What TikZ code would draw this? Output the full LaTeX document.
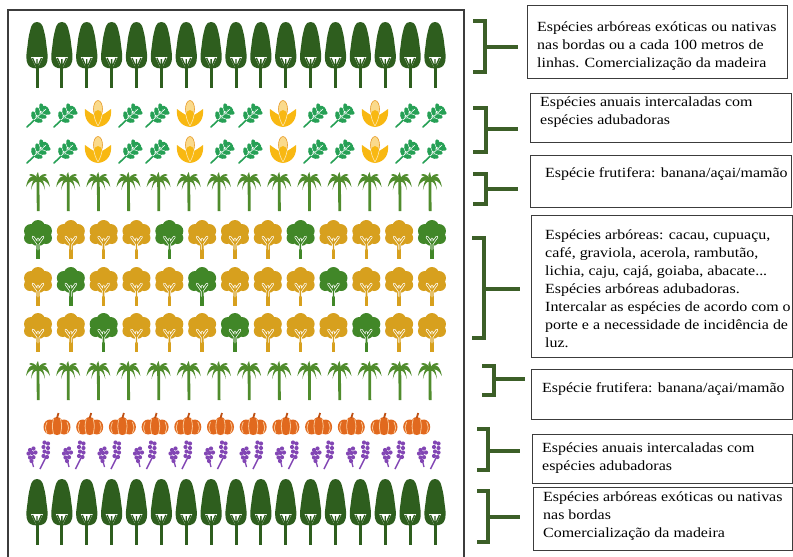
\documentclass[tikz,border=0pt]{standalone}
\usepackage{fontspec}
\setmainfont{Liberation Serif}[FakeStretch=1.14]
\definecolor{talltree}{RGB}{46,94,30}
\definecolor{leafg}{RGB}{38,160,85}
\definecolor{corngold}{RGB}{248,184,18}
\definecolor{cobcol}{RGB}{250,218,140}
\definecolor{coboutline}{RGB}{232,155,40}
\definecolor{palmg}{RGB}{80,140,45}
\definecolor{treegold}{RGB}{215,160,30}
\definecolor{treegreen}{RGB}{65,135,40}
\definecolor{pump}{RGB}{225,105,30}
\definecolor{pumprib}{RGB}{250,200,150}
\definecolor{pumpstem}{RGB}{190,80,20}
\definecolor{lav}{RGB}{130,70,180}
\definecolor{brk}{RGB}{60,95,40}
\definecolor{frame}{RGB}{60,60,60}
\tikzset{
  box/.style={draw=frame, line width=1.3pt, fill=white, inner sep=0pt, anchor=north west},
  txt/.style={font=\fontsize{14}{18}\selectfont, align=left, inner sep=0pt, anchor=north west, text=black},
  bracket/.style={draw=brk, line width=4pt, line join=miter},
  % tall tree, origin at the top of the crown
  pics/talltree/.style={code={
    \fill[talltree] plot[smooth cycle] coordinates {(0,0) (-3,0.8) (-5.5,4) (-7,9) (-8.5,16) (-9.5,24) (-10.5,32) (-10.3,39) (-8,44) (-4,46) (0,46.5) (4,46) (8,44) (10.3,39) (10.5,32) (9.5,24) (8.5,16) (7,9) (5.5,4) (3,0.8)};
    \fill[white] (-6,35) -- (6,35) -- (1.2,45) -- (-1.2,45) -- cycle;
    \draw[talltree, line width=1.3pt] (0,46) -- (-4.5,36) (0,46) -- (4.5,36) (0,46) -- (0,37);
    \fill[talltree] (-1.5,44) rectangle (1.5,66);
  }},
  % leafy sprig, origin at its centre
  pics/leaf/.style={code={
    \draw[leafg, line width=1.6pt, line cap=round] (-11,10) -- (8,-8);
    \foreach \sx/\sy in {-3/2, 1/-2, 5/-6} {
      \fill[leafg, rotate around={-80:(\sx-1.5,\sy-3.5)}] (\sx-1.5,\sy-3.5) ellipse [x radius=4.3, y radius=2.3];
      \fill[leafg, rotate around={-10:(\sx+3.5,\sy+1.5)}] (\sx+3.5,\sy+1.5) ellipse [x radius=4.3, y radius=2.3];
    }
    \fill[leafg, rotate around={-45:(8,-8)}] (8,-8) ellipse [x radius=4, y radius=2.3];
    \draw[white, line width=0.6pt] (-4,3) -- (8,-8);
  }},
  % ear of maize in its husk, origin at its centre
  pics/corn/.style={code={
    \fill[cobcol, draw=coboutline, line width=0.6pt] (0,-5) ellipse [x radius=4.5, y radius=8.5];
    \fill[corngold] (0,13) .. controls (-10,12) and (-14,4) .. (-13,-5) .. controls (-9,-2) and (-6,0) .. (-4,1) .. controls (-3,-3) .. (0,-4) .. controls (3,-3) .. (4,1) .. controls (6,0) and (9,-2) .. (13,-5) .. controls (14,4) and (10,12) .. (0,13) -- cycle;
    \draw[white!70!corngold, line width=0.6pt] (-4,1) .. controls (-3,6) .. (0,12) (4,1) .. controls (3,6) .. (0,12);
  }},
  % palm, origin at the crown
  pics/palm/.style={code={
    \fill[palmg] (-1.4,0) -- (1.4,0) -- (1.6,32) -- (-1.2,32) -- cycle;
    \fill[palmg] (0,0) .. controls (-5,-5) and (-10,-3) .. (-12,8) .. controls (-9,2) and (-5,0) .. (0,2) -- cycle;
    \fill[palmg] (0,0) .. controls (5,-5) and (10,-3) .. (12,8) .. controls (9,2) and (5,0) .. (0,2) -- cycle;
    \fill[palmg] (0,0) .. controls (-3,-2) and (-6,1) .. (-7,11) .. controls (-5,4) and (-3,2) .. (0,3) -- cycle;
    \fill[palmg] (0,0) .. controls (3,-2) and (6,1) .. (7,11) .. controls (5,4) and (3,2) .. (0,3) -- cycle;
    \fill[palmg] (0,0) .. controls (-3,-5) and (-7,-6) .. (-9,-4) .. controls (-6,-3) and (-3,-1) .. (0,1) -- cycle;
    \fill[palmg] (0,0) .. controls (3,-5) and (7,-6) .. (9,-4) .. controls (6,-3) and (3,-1) .. (0,1) -- cycle;
    \fill[palmg] (-1,0) .. controls (-2,-4) .. (0,-7) .. controls (1,-4) .. (1.5,0) -- cycle;
  }},
  % broad-leaved tree, origin at the crown centre
  pics/dtree/.style={code={
    \fill[#1] (0,-6) circle (7) (-7,-2) circle (7) (7,-2) circle (7) (-8,5) circle (6) (8,5) circle (6) (0,4) circle (9);
    \fill[#1] (-1.8,8) rectangle (1.8,26);
    \draw[white, line width=2.6pt, line cap=round] (0,16) -- (0,6) (0,11) -- (-5,4) (0,11) -- (5,4);
    \draw[#1, line width=1.2pt, line cap=round] (0,17) -- (0,6) (0,11) -- (-5,4) (0,11) -- (5,4);
  }},
  % pumpkin, origin at its centre
  pics/pumpkin/.style={code={
    \fill[pump] (-7,3) ellipse [x radius=6.5, y radius=7.5];
    \fill[pump] (7,3) ellipse [x radius=6.5, y radius=7.5];
    \fill[pump] (0,2) ellipse [x radius=6.5, y radius=9];
    \draw[pumprib, line width=0.8pt] (-3.5,-5) .. controls (-5,2) .. (-3.5,10) (3.5,-5) .. controls (5,2) .. (3.5,10)
      (-10,-2) .. controls (-12,4) .. (-10,9) (10,-2) .. controls (12,4) .. (10,9);
    \draw[pumpstem, line width=1.8pt] (0,-6) -- (1.5,-11);
  }},
  % flowering sprigs, origin at the centre
  pics/flower/.style={code={
    \foreach \px/\py in {-10/-6, -6.5/-7.5, -11.5/-2.5, -8/-3, -4.5/-3.5, -10/1.5, -6.5/1.2, -8.5/5}
      \fill[lav] (\px,\py) circle (2.1);
    \draw[lav, line width=1.3pt] (-8,5) -- (-6.5,11);
    \foreach \px/\py in {4.5/-13.5, 8/-12.5, 3.5/-9, 8/-8, 4.5/-4.5, 8/-3.5, 3.5/0, 7/1}
      \fill[lav] (\px,\py) circle (2.1);
    \draw[lav, line width=1.4pt] (5.5,2) .. controls (3,7) .. (0,13);
  }}
}
\begin{document}
\begin{tikzpicture}[x=1pt,y=-1pt]
\useasboundingbox (0,0) rectangle (793,557);
\fill[white] (0,0) rectangle (793,557);

% planting plan frame
\draw[frame, line width=1.3pt] (8,557) -- (8,10) -- (464,10) -- (464,557);

% border rows of tall trees
\foreach \i in {0,...,16} {
  \pic at ({37+24.875*\i},22) {talltree};
  \pic at ({37+24.875*\i},479) {talltree};
}

% annual crops intercropped with green manure
\foreach \x in {38,65,130,157,222,250,315,342,407,434} {
  \pic at (\x,117) {leaf};
  \pic at (\x,153) {leaf};
}
\foreach \x in {98,190,283,375} {
  \pic at (\x,114) {corn};
  \pic at (\x,150) {corn};
}

% fruit palms
\foreach \i in {0,...,13} {
  \pic at ({38+30.15*\i},179) {palm};
  \pic at ({38+30.15*\i},368) {palm};
}

% three rows of fruit trees
\foreach \i in {0,...,12} {
  \pgfmathtruncatemacro{\ra}{mod(\i,4)==0 ? 1 : 0}
  \pgfmathtruncatemacro{\rb}{mod(\i,4)==1 ? 1 : 0}
  \pgfmathtruncatemacro{\rc}{mod(\i,4)==2 ? 1 : 0}
  \ifnum\ra=1 \def\ca{treegreen}\else\def\ca{treegold}\fi
  \ifnum\rb=1 \def\cb{treegreen}\else\def\cb{treegold}\fi
  \ifnum\rc=1 \def\cc{treegreen}\else\def\cc{treegold}\fi
  \pic at ({38+32.83*\i},233) {dtree=\ca};
  \pic at ({38+32.83*\i},280) {dtree=\cb};
  \pic at ({38+32.83*\i},326) {dtree=\cc};
}

% pumpkins and flowering plants
\foreach \i in {0,...,11} {
  \pic at ({57+32.7*\i},424) {pumpkin};
  \pic at ({40+35.5*\i},456) {flower};
}

% description boxes
\node[box, minimum width=260pt, minimum height=73pt] (box1) at (527,5) {};
\node[box, minimum width=261pt, minimum height=49pt] (box2) at (530,93) {};
\node[box, minimum width=261pt, minimum height=52pt] (box3) at (530,155) {};
\node[box, minimum width=261pt, minimum height=142pt] (box4) at (531,215) {};
\node[box, minimum width=261pt, minimum height=50pt] (box5) at (531,369) {};
\node[box, minimum width=260pt, minimum height=49pt] (box6) at (532,434) {};
\node[box, minimum width=259pt, minimum height=63pt] (box7) at (533,487) {};

\node[txt] (t1) at (537,19) {\strut Espécies arbóreas exóticas ou nativas\\nas bordas ou a cada 100 metros de\\linhas. Comercialização da madeira};
\node[txt] (t2) at (540,94) {\strut Espécies anuais intercaladas com\\espécies adubadoras};
\node[txt] (t3) at (545,165) {\strut Espécie frutifera: banana/açai/mamão};
\node[txt] (t4) at (545,227) {\strut Espécies arbóreas: cacau, cupuaçu,\\café, graviola, acerola, rambutão,\\lichia, caju, cajá, goiaba, abacate...\\Espécies arbóreas adubadoras.\\Intercalar as espécies de acordo com o\\porte e a necessidade de incidência de\\luz.};
\node[txt] (t5) at (542,380) {\strut Espécie frutifera: banana/açai/mamão};
\node[txt] (t6) at (542,440) {\strut Espécies anuais intercaladas com\\espécies adubadoras};
\node[txt] (t7) at (543,489) {\strut Espécies arbóreas exóticas ou nativas\\nas bordas\\Comercialização da madeira};

% brackets grouping the rows, each with a stub pointing to its box
\foreach \n/\sl/\sp/\tp/\bt/\sy/\se in {
  1/473/485/21/72/47/518,
  2/473/486/108/152/129/518,
  3/473/486/174/204/189/518,
  4/472/484/238/338/289/520,
  5/482/494/366/395/379/525,
  6/477/488/429/470/451/520,
  7/477/488/491/542/517/520} {
  \draw[bracket] (\sl,\tp) -- (\sp,\tp) -- (\sp,\bt) -- (\sl,\bt);
  \coordinate (k\n) at (\sp,\sy);
  \coordinate (k\n e) at (\se,\sy);
  \draw[bracket] (k\n) -- (k\n e);
}
\end{tikzpicture}
\end{document}
